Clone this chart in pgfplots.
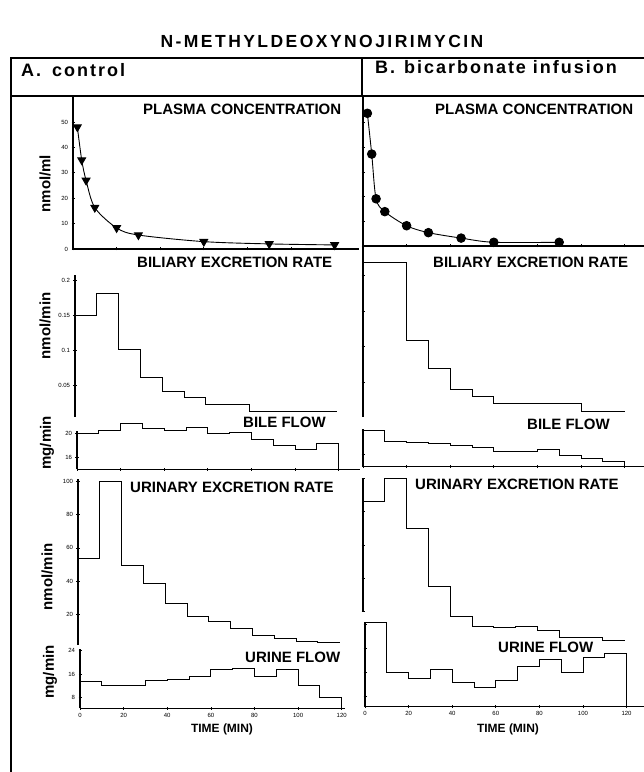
\documentclass[border=0pt]{standalone}
\usepackage{pgfplots}
\pgfplotsset{compat=1.18}
\usepackage{fontspec}
\setmainfont{Liberation Sans}
\newfontfamily\titlefont[LetterSpace=14]{Liberation Sans}
\newfontfamily\headfont[LetterSpace=11]{Liberation Sans}

\pgfplotsset{
  panel/.style={
    scale only axis, clip=false, anchor=south west, xmin=0,
    axis line style={line width=1.1pt},
    tick style={black, line width=0.7pt},
    major tick length=3pt, tick align=center,
    tick label style={font=\fontsize{6}{7}\selectfont},
    /pgf/number format/assume math mode=true,
    scaled y ticks=false,
    xtick={0,20,...,120}, xticklabels={},
    every axis plot/.append style={black, line width=0.9pt},
  },
  step/.style={const plot, no markers},
}

\begin{document}
\begin{tikzpicture}
\useasboundingbox (0pt,0pt) rectangle (644pt,772pt);

% frame
\draw[line width=1.3pt] (11pt,0pt) -- (11pt,714pt) -- (644pt,714pt);
\draw[line width=1.1pt] (11pt,676pt) -- (644pt,676pt);
\draw[line width=1.1pt] (362pt,714pt) -- (362pt,676pt);

\node[font=\titlefont\bfseries\fontsize{17.5}{19}\selectfont, anchor=base] at (322pt,724pt) {N-METHYLDEOXYNOJIRIMYCIN};
\node[font=\headfont\bfseries\fontsize{18}{20}\selectfont, anchor=base west, inner sep=0pt] at (21pt,695.3pt) {A.\hspace{11pt}control};
\node[font=\headfont\bfseries\fontsize{18}{20}\selectfont, anchor=base west, inner sep=0pt] at (375pt,698.7pt) {B.\hspace{9pt}bicarbonate infusion};

% ---------- A. control ----------
\begin{axis}[panel, axis lines*=left, at={(73pt,523pt)}, width=285.6pt, height=152.9pt,
  xmax=131, ymin=0, ymax=60.2, ytick={0,10,...,50}]
\addplot[smooth, mark=triangle*, mark size=4.5pt, mark options={rotate=180, fill=black}] coordinates {
(2,48) (4,35) (6,27) (10,16.3) (20,8.3) (30,5.5) (60,2.9) (90,2) (120,1.6)
};
\end{axis}

\begin{axis}[panel, axis y line*=left, axis x line=none, at={(75pt,355pt)}, width=261.6pt, height=142pt,
  xmax=120, ymin=0.0057, ymax=0.207, ytick={0.05,0.1,0.15,0.2}, yticklabels={0.05,0.1,0.15,0.2}, xtick=\empty]
\addplot[step] coordinates {
(0,0.150) (10,0.181) (20,0.102) (30,0.062) (40,0.0415) (50,0.034) (60,0.024) (80,0.014) (120,0.014)
};
\end{axis}

\begin{axis}[panel, axis lines*=left, at={(77pt,302.7pt)}, width=283.4pt, height=37.8pt,
  xmax=130, ymin=14, ymax=20.3, ytick={16,20}]
\addplot[step] coordinates {
(0,20.0) (10,20.55) (20,21.7) (30,20.8) (40,20.4) (50,21.0) (60,19.9) (70,20.2)
(80,19.05) (90,18.05) (100,17.3) (110,18.3) (120,14)
};
\end{axis}

\begin{axis}[panel, axis y line*=left, axis x line=none, at={(78pt,127pt)}, width=261.6pt, height=165.7pt,
  xmax=120, ymin=1.5, ymax=101.3, ytick={20,40,...,100}, xtick=\empty]
\addplot[step] coordinates {
(0,53.7) (10,100) (20,49.7) (30,38.3) (40,26.6) (50,18.6) (60,15.4) (70,11.3)
(80,7.1) (90,5.5) (100,3.8) (110,3.2) (120,3.2)
};
\end{axis}

\begin{axis}[panel, axis lines*=left, at={(80pt,63.7pt)}, width=265pt, height=59.1pt,
  xmax=121.5, ymin=4.2, ymax=24.5, ytick={8,16,24}, xticklabels={0,20,40,60,80,100,120}]
\addplot[step] coordinates {
(0,13.35) (10,12.2) (20,11.9) (30,13.9) (40,14.2) (50,15.3) (60,17.4) (70,17.9)
(80,15.3) (90,17.7) (100,12.2) (110,8) (120,4.2)
};
\end{axis}

% ---------- B. bicarbonate infusion ----------
\begin{axis}[panel, axis lines*=left, at={(363pt,526pt)}, width=281.2pt, height=150pt,
  xmax=129, ymin=0, ymax=60.7, ytick={0,10,...,50}, yticklabels={}]
\addplot[smooth, mark=*, mark size=4.3pt] coordinates {
(2,53.7) (4,37.2) (6,19.1) (10,13.9) (20,8.2) (30,5.4) (45,3.2) (60,1.5) (90,1.5)
};
\end{axis}

\begin{axis}[panel, axis y line*=left, axis x line=none, at={(363pt,355.3pt)}, width=261.6pt, height=169.7pt,
  xmax=120, ymin=0.001, ymax=0.240, ytick={0.05,0.1,0.15,0.2}, yticklabels={}, xtick=\empty]
\addplot[step] coordinates {
(0,0.218) (20,0.109) (30,0.069) (40,0.040) (50,0.030) (60,0.020) (100,0.009) (120,0.009)
};
\end{axis}

\begin{axis}[panel, axis lines*=left, at={(363pt,305.3pt)}, width=281.2pt, height=37.8pt,
  xmax=129, ymin=14, ymax=20.3, ytick={16,20}, yticklabels={}]
\addplot[step] coordinates {
(0,20.0) (10,18.2) (20,18.0) (30,17.8) (40,17.5) (50,17.2) (60,16.5) (70,16.5)
(80,16.9) (90,15.8) (100,15.4) (110,14.9) (120,14)
};
\end{axis}

\begin{axis}[panel, axis y line*=left, axis x line=none, at={(363pt,160.3pt)}, width=261.6pt, height=133.7pt,
  xmax=120, ymin=20, ymax=100.3, ytick={20,40,...,100}, yticklabels={}, xtick=\empty]
\addplot[step] coordinates {
(0,86) (10,100) (20,70) (30,35.4) (40,17) (50,11.4) (60,10.6) (70,11)
(80,8.6) (90,4.6) (100,4.6) (110,3) (120,3)
};
\end{axis}

\begin{axis}[panel, axis lines*=left, at={(365pt,65.3pt)}, width=279pt, height=84.7pt,
  xmax=128, ymin=4.7, ymax=32.7, ytick={8,16,24,32}, yticklabels={}, xticklabels={0,20,40,60,80,100,120}]
\addplot[step] coordinates {
(0,32.7) (10,16.05) (20,14.1) (30,17) (40,12.6) (50,11) (60,13.5) (70,17.9)
(80,20.3) (90,16.05) (100,21) (110,22.3) (120,4.7)
};
\end{axis}

% panel labels
\begin{scope}[every node/.style={font=\bfseries\fontsize{15}{17}\selectfont, anchor=base west, inner sep=0pt}]
\node at (143pt,657pt) {PLASMA CONCENTRATION};
\node at (435pt,657pt) {PLASMA CONCENTRATION};
\node at (137pt,504pt) {BILIARY EXCRETION RATE};
\node at (433pt,504pt) {BILIARY EXCRETION RATE};
\node at (243pt,344pt) {BILE FLOW};
\node at (527pt,342pt) {BILE FLOW};
\node at (130pt,279.3pt) {URINARY EXCRETION RATE};
\node at (415pt,282pt) {URINARY EXCRETION RATE};
\node at (245pt,109pt) {URINE FLOW};
\node at (498pt,119pt) {URINE FLOW};
\end{scope}
\node[font=\bfseries\fontsize{12}{14}\selectfont, anchor=base] at (222pt,39.3pt) {TIME (MIN)};
\node[font=\bfseries\fontsize{12}{14}\selectfont, anchor=base] at (508pt,39.3pt) {TIME (MIN)};

% y labels
\begin{scope}[every node/.style={font=\bfseries\fontsize{15}{17}\selectfont, rotate=90, inner sep=0pt}]
\node at (45pt,588.3pt) {nmol/ml};
\node at (45pt,446pt) {nmol/min};
\node at (47pt,329pt) {mg/min};
\node at (47pt,195pt) {nmol/min};
\node at (50pt,100pt) {mg/min};
\end{scope}
\end{tikzpicture}
\end{document}
